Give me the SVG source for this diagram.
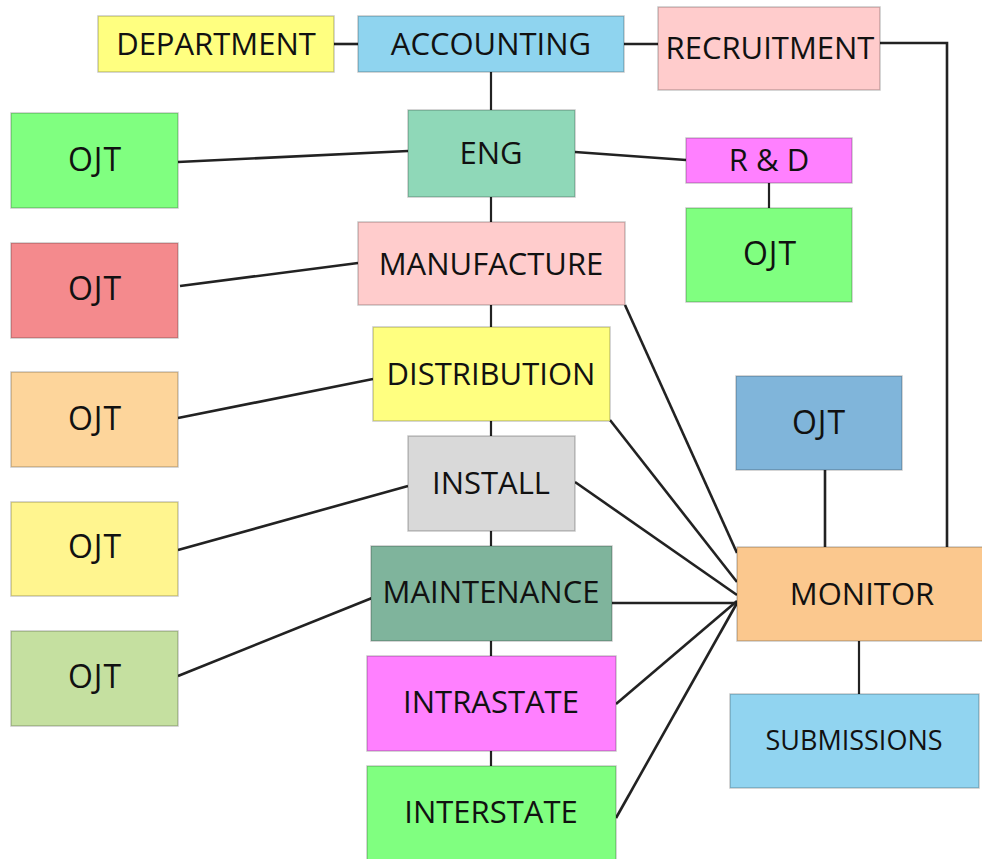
<svg xmlns="http://www.w3.org/2000/svg" width="982" height="859" viewBox="0 0 982 859">
<style>
.box{stroke:#000;stroke-opacity:0.22;stroke-width:1.5}
.t{font-family:"Open Sans","Noto Sans",sans-serif;font-size:31px;fill:#111;text-anchor:middle}
.o{font-size:32px;letter-spacing:1px}
.s{font-size:27px}
.c{fill:none;stroke:#222;stroke-width:2.6;stroke-linecap:butt}
.v{stroke-width:2.2}
</style>
<rect width="982" height="859" fill="#fff"/>
<g id="connectors">
<line class="c" x1="334" y1="44" x2="358" y2="44"/>
<line class="c" x1="624" y1="44" x2="658" y2="44"/>
<polyline class="c" points="880,43 947,43 947,547"/>
<line class="c v" x1="491" y1="72" x2="491" y2="110"/>
<line class="c" x1="178" y1="162" x2="408" y2="151"/>
<line class="c" x1="575" y1="152" x2="686" y2="160"/>
<line class="c v" x1="769" y1="183" x2="769" y2="208"/>
<line class="c v" x1="491" y1="197" x2="491" y2="222"/>
<line class="c" x1="180" y1="286" x2="358" y2="263"/>
<line class="c v" x1="491" y1="305" x2="491" y2="327"/>
<line class="c" x1="178" y1="418" x2="373" y2="379"/>
<line class="c v" x1="491" y1="421" x2="491" y2="436"/>
<line class="c" x1="178" y1="550" x2="408" y2="486"/>
<line class="c v" x1="491" y1="531" x2="491" y2="546"/>
<line class="c" x1="178" y1="676" x2="372" y2="598"/>
<line class="c v" x1="491" y1="641" x2="491" y2="656"/>
<line class="c v" x1="491" y1="751" x2="491" y2="766"/>
<line class="c" x1="625" y1="305" x2="737" y2="553"/>
<line class="c" x1="610" y1="420" x2="737" y2="582"/>
<line class="c" x1="575" y1="482" x2="737" y2="595"/>
<line class="c" x1="612" y1="603" x2="737" y2="603"/>
<line class="c" x1="616" y1="704" x2="737" y2="601"/>
<line class="c" x1="616" y1="818" x2="737" y2="603"/>
<line class="c" x1="825" y1="470" x2="825" y2="547"/>
<line class="c v" x1="859" y1="641" x2="859" y2="694"/>
</g>
<g id="department"><rect class="box" x="98" y="16" width="236" height="56" fill="#ffff80"/><text class="t" x="216" y="55">DEPARTMENT</text></g>
<g id="accounting"><rect class="box" x="358" y="16" width="266" height="56" fill="#8fd4ef"/><text class="t" x="491" y="55">ACCOUNTING</text></g>
<g id="recruitment"><rect class="box" x="658" y="7" width="222" height="83" fill="#ffcccc"/><text class="t" x="770" y="59">RECRUITMENT</text></g>
<g id="eng"><rect class="box" x="408" y="110" width="167" height="87" fill="#8fd8b8"/><text class="t" x="491" y="164">ENG</text></g>
<g id="ojt1"><rect class="box" x="11" y="113" width="167" height="95" fill="#80ff80"/><text class="t o" x="95" y="171">OJT</text></g>
<g id="rnd"><rect class="box" x="686" y="138" width="166" height="45" fill="#ff80ff"/><text class="t" x="769" y="171">R &amp; D</text></g>
<g id="ojt-rnd"><rect class="box" x="686" y="208" width="166" height="94" fill="#80ff80"/><text class="t o" x="770" y="265">OJT</text></g>
<g id="manufacture"><rect class="box" x="358" y="222" width="267" height="83" fill="#ffcccc"/><text class="t" x="491" y="275">MANUFACTURE</text></g>
<g id="ojt2"><rect class="box" x="11" y="243" width="167" height="95" fill="#f48a8d"/><text class="t o" x="95" y="300">OJT</text></g>
<g id="distribution"><rect class="box" x="373" y="327" width="237" height="94" fill="#ffff80"/><text class="t" x="491" y="385">DISTRIBUTION</text></g>
<g id="ojt3"><rect class="box" x="11" y="372" width="167" height="95" fill="#fdd59b"/><text class="t o" x="95" y="430">OJT</text></g>
<g id="install"><rect class="box" x="408" y="436" width="167" height="95" fill="#d9d9d9"/><text class="t" x="491" y="494">INSTALL</text></g>
<g id="ojt4"><rect class="box" x="11" y="502" width="167" height="94" fill="#fff58f"/><text class="t o" x="95" y="558">OJT</text></g>
<g id="maintenance"><rect class="box" x="371" y="546" width="241" height="95" fill="#7fb49c"/><text class="t" x="491" y="603">MAINTENANCE</text></g>
<g id="ojt5"><rect class="box" x="11" y="631" width="167" height="95" fill="#c5e0a0"/><text class="t o" x="95" y="688">OJT</text></g>
<g id="intrastate"><rect class="box" x="367" y="656" width="249" height="95" fill="#ff80ff"/><text class="t" x="491" y="713">INTRASTATE</text></g>
<g id="interstate"><rect class="box" x="367" y="766" width="249" height="96" fill="#80ff80"/><text class="t" x="491" y="823">INTERSTATE</text></g>
<g id="ojt-monitor"><rect class="box" x="736" y="376" width="166" height="94" fill="#80b5da"/><text class="t o" x="819" y="434">OJT</text></g>
<g id="monitor"><rect class="box" x="737" y="547" width="248" height="94" fill="#fbc88e"/><text class="t" x="862" y="605">MONITOR</text></g>
<g id="submissions"><rect class="box" x="730" y="694" width="249" height="94" fill="#91d4f0"/><text class="t s" x="854" y="750">SUBMISSIONS</text></g>
</svg>
